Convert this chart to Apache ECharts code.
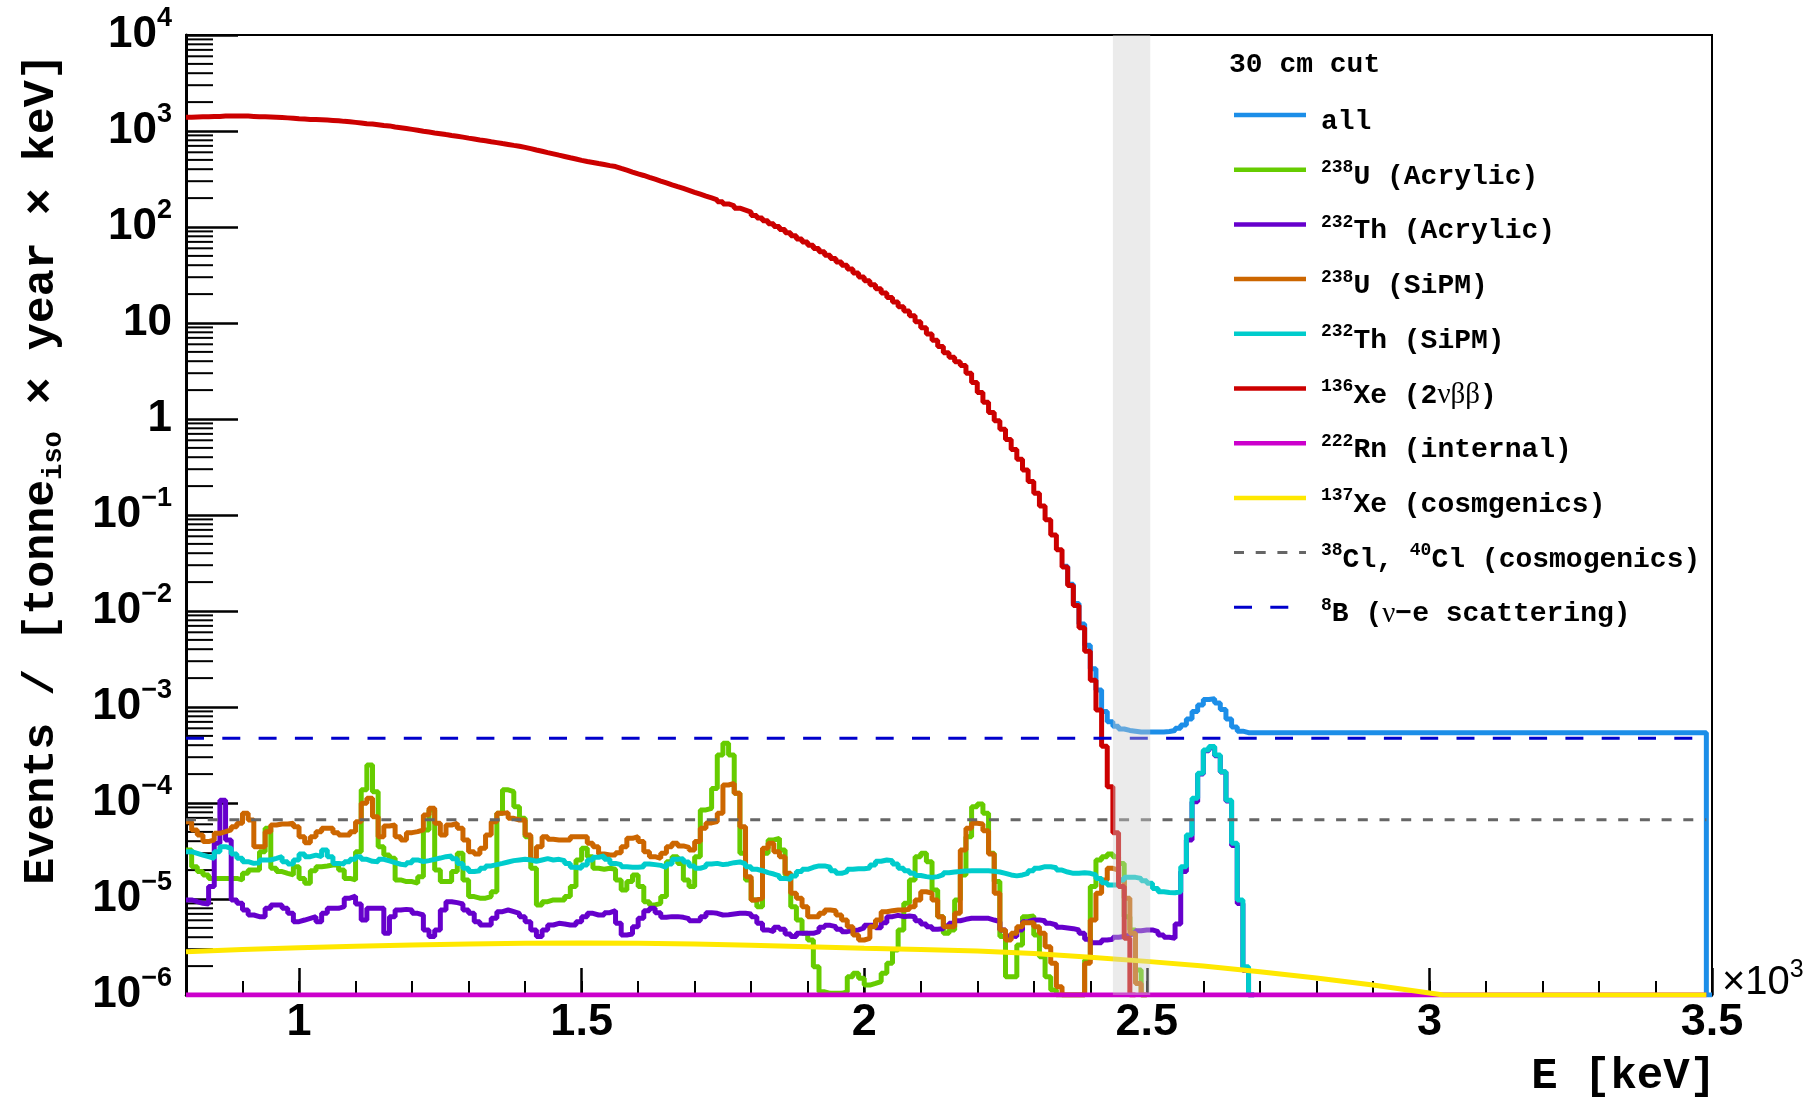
<!DOCTYPE html>
<html>
<head>
<meta charset="utf-8">
<script src="https://cdn.jsdelivr.net/npm/echarts@6/dist/echarts.min.js"></script>
<style>
  html, body { margin: 0; padding: 0; background: #fff; }
  #chart { width: 1820px; height: 1103px; }
</style>
</head>
<body>
<div id="chart"></div>
<script>
// Energy range and binning of the background histograms (keV)
const E_MIN = 800;
const E_MAX = 3500;
const BIN_KEV = 10;
const ALL_FROM_KEV = 2350;        // first bin of the "all" histogram that is drawn
const FLAT_RANGE_KEV = [800, 3490];
const ROI_KEV = [2440, 2506];

// x-axis labelled ticks (keV), shown in units of 10^3 keV
const xTickKeV = [1000, 1500, 2000, 2500, 3000, 3500];

// Events / (tonne_iso x year x keV), one value per 10 keV bin starting at E_MIN
const xe136 = [
  1390, 1400, 1410, 1410, 1420, 1420, 1430, 1430, 1430, 1430,
  1430, 1420, 1410, 1410, 1400, 1390, 1380, 1370, 1360, 1340,
  1330, 1320, 1320, 1310, 1300, 1290, 1280, 1260, 1250, 1230,
  1210, 1190, 1180, 1160, 1140, 1130, 1100, 1080, 1060, 1040,
  1020, 995, 975, 955, 938, 918, 899, 881, 863, 843,
  826, 807, 791, 773, 757, 740, 724, 708, 693, 675,
  655, 634, 615, 596, 578, 560, 543, 526, 511, 494,
  481, 470, 458, 447, 436, 426, 408, 391, 374, 358,
  344, 329, 315, 301, 288, 275, 263, 252, 241, 230,
  220, 210, 201, 192, 183, 174, 166, 157, 150, 143,
  132, 124, 116, 108, 101, 94.0, 87.3, 80.9, 75.2, 69.7,
  64.7, 59.8, 55.2, 50.9, 46.9, 43.3, 39.9, 36.5, 33.2, 30.2,
  27.5, 25.0, 22.7, 20.5, 18.4, 16.5, 14.8, 13.3, 11.9, 10.3,
  8.91, 7.67, 6.61, 5.69, 4.91, 4.39, 3.94, 3.60, 2.99, 2.40,
  1.89, 1.49, 1.17, 0.96, 0.78, 0.61, 0.48, 0.38, 0.294, 0.223,
  0.168, 0.124, 0.089, 0.062, 0.0434, 0.0287, 0.0184, 0.0114, 0.0067, 0.0038,
  0.0019, 9.3e-4, 3.9e-4, 1.48e-4, 4.9e-5, 1.35e-5, 3.9e-6, 1e-6
];

const u238Acrylic = [
  3.24e-5, 2.17e-5, 1.93e-5, 1.78e-5, 1.64e-5, 1.64e-5, 1.64e-5, 1.64e-5, 1.64e-5, 1.58e-5,
  1.85e-5, 2.00e-5, 2.00e-5, 3.11e-5, 5.45e-5, 2.09e-5, 1.93e-5, 1.85e-5, 1.78e-5, 2.17e-5,
  1.64e-5, 1.46e-5, 1.97e-5, 2.17e-5, 2.21e-5, 2.26e-5, 2.26e-5, 2.00e-5, 1.64e-5, 1.58e-5,
  3.11e-5, 1.37e-4, 2.49e-4, 1.31e-4, 3.51e-5, 2.87e-5, 2.65e-5, 1.58e-5, 1.52e-5, 1.52e-5,
  1.46e-5, 1.71e-5, 5.24e-5, 8.46e-5, 2.00e-5, 1.52e-5, 1.52e-5, 1.93e-5, 2.99e-5, 1.58e-5,
  1.06e-5, 1.02e-5, 1.02e-5, 1.06e-5, 1.19e-5, 7.80e-5, 1.37e-4, 1.31e-4, 9.16e-5, 6.92e-5,
  4.46e-5, 2.09e-5, 8.67e-6, 9.38e-6, 9.77e-6, 9.77e-6, 9.77e-6, 1.06e-5, 1.35e-5, 2.55e-5,
  3.37e-5, 2.76e-5, 2.09e-5, 2.04e-5, 2.09e-5, 2.04e-5, 1.58e-5, 1.24e-5, 1.52e-5, 1.78e-5,
  1.35e-5, 9.38e-6, 8.67e-6, 9.02e-6, 1.06e-5, 2.45e-5, 2.76e-5, 2.35e-5, 1.58e-5, 1.35e-5,
  2.76e-5, 8.46e-5, 8.81e-5, 1.42e-4, 3.16e-4, 4.19e-4, 3.16e-4, 1.26e-4, 2.99e-5, 1.58e-5,
  9.77e-6, 8.32e-6, 2.99e-5, 4.12e-5, 4.29e-5, 3.24e-5, 1.78e-5, 8.32e-6, 6.04e-6, 4.39e-6,
  3.74e-6, 1.97e-6, 1.08e-6, 1.04e-6, 1.04e-6, 1.04e-6, 1.08e-6, 1.55e-6, 1.68e-6, 1.49e-6,
  1.27e-6, 1.32e-6, 1.38e-6, 1.68e-6, 2.14e-6, 2.94e-6, 4.76e-6, 9.02e-6, 1.58e-5, 2.76e-5,
  2.99e-5, 2.45e-5, 1.24e-5, 6.55e-6, 4.39e-6, 4.76e-6, 9.77e-6, 1.78e-5, 4.46e-5, 9.16e-5,
  9.77e-5, 7.80e-5, 2.99e-5, 1.52e-5, 4.06e-6, 1.55e-6, 1.55e-6, 3.32e-6, 6.55e-6, 6.65e-6,
  4.22e-6, 2.51e-6, 1.55e-6, 1.13e-6, 1e-6, 1e-6, 1e-6, 1e-6, 1e-6, 2.32e-6,
  1.35e-5, 2.55e-5, 2.76e-5, 2.94e-5, 2.76e-5, 2.35e-5, 6.55e-6, 4.76e-6, 1.82e-6, 1e-6
];

const th232Acrylic = [
  9.77e-6, 9.38e-6, 9.02e-6, 8.87e-6, 1.35e-5, 3.80e-5, 1.07e-4, 4.12e-5, 9.77e-6, 9.02e-6,
  7.68e-6, 6.81e-6, 6.55e-6, 6.55e-6, 8.00e-6, 8.67e-6, 8.67e-6, 8.00e-6, 7.09e-6, 5.81e-6,
  6.04e-6, 6.29e-6, 6.55e-6, 5.81e-6, 7.09e-6, 8.00e-6, 8.00e-6, 8.32e-6, 1.02e-5, 1.07e-5,
  8.87e-6, 6.04e-6, 8.00e-6, 8.00e-6, 8.00e-6, 4.39e-6, 6.55e-6, 7.68e-6, 7.80e-6, 7.68e-6,
  7.09e-6, 6.81e-6, 4.76e-6, 4.06e-6, 4.76e-6, 7.68e-6, 9.38e-6, 9.16e-6, 8.87e-6, 7.68e-6,
  7.09e-6, 5.81e-6, 5.36e-6, 5.36e-6, 6.29e-6, 7.38e-6, 7.68e-6, 7.38e-6, 7.09e-6, 6.55e-6,
  5.81e-6, 4.76e-6, 4.06e-6, 4.76e-6, 5.36e-6, 5.58e-6, 5.50e-6, 5.36e-6, 5.36e-6, 5.81e-6,
  6.55e-6, 7.09e-6, 6.81e-6, 6.81e-6, 7.21e-6, 7.56e-6, 5.58e-6, 4.22e-6, 4.32e-6, 5.15e-6,
  6.29e-6, 7.56e-6, 8.00e-6, 7.21e-6, 6.44e-6, 6.55e-6, 6.55e-6, 6.44e-6, 6.24e-6, 5.94e-6,
  5.94e-6, 6.55e-6, 7.21e-6, 7.09e-6, 6.81e-6, 6.87e-6, 6.98e-6, 7.09e-6, 7.09e-6, 6.98e-6,
  6.55e-6, 5.58e-6, 4.76e-6, 4.57e-6, 5.07e-6, 4.83e-6, 4.32e-6, 4.06e-6, 4.39e-6, 4.39e-6,
  4.39e-6, 4.57e-6, 5.07e-6, 5.32e-6, 5.15e-6, 4.83e-6, 4.57e-6, 4.68e-6, 4.76e-6, 4.99e-6,
  5.32e-6, 5.32e-6, 5.03e-6, 5.67e-6, 6.55e-6, 6.76e-6, 6.55e-6, 6.65e-6, 6.55e-6, 5.94e-6,
  5.50e-6, 5.15e-6, 4.83e-6, 4.91e-6, 5.23e-6, 5.58e-6, 5.94e-6, 6.14e-6, 6.29e-6, 6.29e-6,
  6.29e-6, 6.29e-6, 6.04e-6, 5.81e-6, 4.76e-6, 4.12e-6, 4.06e-6, 4.76e-6, 5.81e-6, 6.04e-6,
  6.04e-6, 5.94e-6, 5.58e-6, 5.36e-6, 5.07e-6, 4.99e-6, 4.91e-6, 4.76e-6, 4.39e-6, 3.80e-6,
  3.51e-6, 3.51e-6, 3.74e-6, 3.80e-6, 3.99e-6, 4.06e-6, 4.22e-6, 4.39e-6, 4.68e-6, 4.76e-6,
  4.76e-6, 4.57e-6, 4.22e-6, 3.99e-6, 3.89e-6, 5.50e-6, 1.93e-5, 4.12e-5, 1.03e-4, 2.00e-4,
  3.50e-4, 3.80e-4, 3.10e-4, 2.10e-4, 1.05e-4, 3.60e-5, 9.00e-6, 1.80e-6, 1e-6
];

const u238SiPM = [
  6.39e-5, 5.24e-5, 4.64e-5, 3.96e-5, 4.12e-5, 4.83e-5, 5.03e-5, 5.24e-5, 5.67e-5, 6.14e-5,
  7.80e-5, 6.65e-5, 3.51e-5, 3.51e-5, 5.03e-5, 5.90e-5, 6.04e-5, 6.04e-5, 6.14e-5, 5.67e-5,
  4.46e-5, 3.86e-5, 4.46e-5, 5.03e-5, 5.45e-5, 5.45e-5, 4.91e-5, 4.64e-5, 4.64e-5, 5.03e-5,
  6.39e-5, 9.93e-5, 1.12e-4, 7.21e-5, 4.46e-5, 5.76e-5, 5.90e-5, 4.46e-5, 4.12e-5, 4.91e-5,
  5.03e-5, 5.24e-5, 7.50e-5, 8.81e-5, 6.14e-5, 4.64e-5, 5.90e-5, 6.14e-5, 5.45e-5, 4.12e-5,
  3.11e-5, 2.94e-5, 3.37e-5, 4.64e-5, 6.39e-5, 7.80e-5, 7.93e-5, 6.92e-5, 6.65e-5, 6.65e-5,
  4.64e-5, 2.55e-5, 3.51e-5, 4.46e-5, 4.19e-5, 4.12e-5, 4.12e-5, 4.12e-5, 4.46e-5, 4.46e-5,
  4.46e-5, 3.80e-5, 3.51e-5, 2.94e-5, 2.87e-5, 2.87e-5, 3.04e-5, 3.51e-5, 4.29e-5, 4.46e-5,
  3.96e-5, 3.11e-5, 2.76e-5, 2.65e-5, 2.99e-5, 3.51e-5, 3.80e-5, 3.57e-5, 3.45e-5, 3.24e-5,
  3.96e-5, 5.45e-5, 6.20e-5, 6.39e-5, 7.80e-5, 1.54e-4, 1.60e-4, 1.26e-4, 5.67e-5, 1.71e-5,
  9.77e-6, 1.02e-5, 3.37e-5, 3.80e-5, 3.11e-5, 2.76e-5, 1.85e-5, 1.15e-5, 1.02e-5, 8.32e-6,
  6.55e-6, 6.55e-6, 7.09e-6, 7.68e-6, 7.56e-6, 6.81e-6, 6.04e-6, 5.15e-6, 4.22e-6, 3.74e-6,
  3.89e-6, 5.15e-6, 6.04e-6, 7.38e-6, 7.56e-6, 7.68e-6, 7.68e-6, 7.80e-6, 8.32e-6, 9.77e-6,
  1.19e-5, 1.15e-5, 9.77e-6, 6.55e-6, 5.15e-6, 5.15e-6, 7.09e-6, 3.24e-5, 5.45e-5, 6.14e-5,
  6.04e-5, 5.15e-5, 2.94e-5, 1.15e-5, 4.76e-6, 3.74e-6, 4.39e-6, 5.15e-6, 5.67e-6, 5.67e-6,
  5.15e-6, 4.39e-6, 3.19e-6, 2.14e-6, 1.22e-6, 1e-6, 1e-6, 1e-6, 1e-6, 2.14e-6,
  6.04e-6, 1.15e-5, 1.58e-5, 2.09e-5, 2.00e-5, 1.58e-5, 1.02e-5, 4.39e-6, 1.32e-6, 1e-6
];

const th232SiPM = [
  3.11e-5, 2.99e-5, 2.87e-5, 2.76e-5, 2.65e-5, 3.11e-5, 3.51e-5, 3.37e-5, 2.94e-5, 2.65e-5,
  2.45e-5, 2.35e-5, 2.39e-5, 2.55e-5, 2.55e-5, 2.65e-5, 2.76e-5, 2.45e-5, 2.32e-5, 2.55e-5,
  2.94e-5, 2.76e-5, 2.87e-5, 2.76e-5, 3.24e-5, 2.76e-5, 2.35e-5, 2.32e-5, 2.45e-5, 2.59e-5,
  2.76e-5, 2.59e-5, 2.47e-5, 2.45e-5, 2.59e-5, 2.49e-5, 2.39e-5, 2.30e-5, 2.26e-5, 2.39e-5,
  2.55e-5, 2.45e-5, 2.51e-5, 2.59e-5, 2.67e-5, 2.76e-5, 2.81e-5, 2.63e-5, 2.35e-5, 2.09e-5,
  1.93e-5, 1.97e-5, 2.09e-5, 2.21e-5, 2.28e-5, 2.35e-5, 2.43e-5, 2.51e-5, 2.55e-5, 2.59e-5,
  2.55e-5, 2.47e-5, 2.55e-5, 2.63e-5, 2.55e-5, 2.59e-5, 2.51e-5, 2.35e-5, 2.14e-5, 2.09e-5,
  2.26e-5, 2.55e-5, 2.72e-5, 2.81e-5, 2.59e-5, 2.35e-5, 2.28e-5, 2.17e-5, 2.14e-5, 2.14e-5,
  2.17e-5, 2.32e-5, 2.28e-5, 2.24e-5, 2.14e-5, 2.32e-5, 2.59e-5, 2.63e-5, 2.43e-5, 2.21e-5,
  2.09e-5, 2.17e-5, 2.32e-5, 2.35e-5, 2.28e-5, 2.32e-5, 2.39e-5, 2.43e-5, 2.32e-5, 2.17e-5,
  2.04e-5, 1.97e-5, 1.88e-5, 1.82e-5, 1.74e-5, 1.64e-5, 1.60e-5, 1.74e-5, 1.93e-5, 2.04e-5,
  2.14e-5, 2.21e-5, 2.21e-5, 2.14e-5, 1.97e-5, 1.85e-5, 1.93e-5, 2.04e-5, 2.07e-5, 2.07e-5,
  2.10e-5, 2.26e-5, 2.47e-5, 2.55e-5, 2.51e-5, 2.32e-5, 2.09e-5, 1.97e-5, 1.85e-5, 1.76e-5,
  1.71e-5, 1.68e-5, 1.71e-5, 1.79e-5, 1.88e-5, 1.91e-5, 1.93e-5, 1.96e-5, 1.97e-5, 1.97e-5,
  1.97e-5, 1.97e-5, 1.94e-5, 1.91e-5, 1.85e-5, 1.78e-5, 1.74e-5, 1.78e-5, 1.85e-5, 1.97e-5,
  2.09e-5, 2.17e-5, 2.17e-5, 2.12e-5, 2.00e-5, 1.91e-5, 1.85e-5, 1.85e-5, 1.88e-5, 1.85e-5,
  1.78e-5, 1.64e-5, 1.48e-5, 1.40e-5, 1.40e-5, 1.58e-5, 1.68e-5, 1.68e-5, 1.64e-5, 1.55e-5,
  1.46e-5, 1.29e-5, 1.19e-5, 1.17e-5, 1.16e-5, 1.19e-5, 2.17e-5, 4.64e-5, 1.12e-4, 2.04e-4,
  3.57e-4, 3.87e-4, 3.16e-4, 2.12e-4, 1.07e-4, 3.80e-5, 9.77e-6, 1.97e-6, 1e-6
];

// Sum of all components, bins from ALL_FROM_KEV (below it the sum follows 136Xe)
const allSum = [
  0.0293, 0.0190, 0.0120, 0.0073, 0.0044, 0.0025, 0.00150, 9.0e-4, 7.0e-4, 6.3e-4,
  5.9e-4, 5.7e-4, 5.6e-4, 5.5e-4, 5.5e-4, 5.5e-4, 5.5e-4, 5.5e-4, 5.55e-4, 5.7e-4,
  6.0e-4, 6.5e-4, 7.5e-4, 9.0e-4, 1.05e-3, 1.20e-3, 1.22e-3, 1.10e-3, 9.4e-4, 7.5e-4,
  6.2e-4, 5.6e-4, 5.4e-4, 5.4e-4, 5.4e-4, 5.4e-4, 5.4e-4, 5.4e-4, 5.4e-4, 5.4e-4,
  5.4e-4, 5.4e-4, 5.4e-4, 5.4e-4, 5.4e-4, 5.4e-4, 5.4e-4, 5.4e-4, 5.4e-4, 5.4e-4,
  5.4e-4, 5.4e-4, 5.4e-4, 5.4e-4, 5.4e-4, 5.4e-4, 5.4e-4, 5.4e-4, 5.4e-4, 5.4e-4,
  5.4e-4, 5.4e-4, 5.4e-4, 5.4e-4, 5.4e-4, 5.4e-4, 5.4e-4, 5.4e-4, 5.4e-4, 5.4e-4,
  5.4e-4, 5.4e-4, 5.4e-4, 5.4e-4, 5.4e-4, 5.4e-4, 5.4e-4, 5.4e-4, 5.4e-4, 5.4e-4,
  5.4e-4, 5.4e-4, 5.4e-4, 5.4e-4, 5.4e-4, 5.4e-4, 5.4e-4, 5.4e-4, 5.4e-4, 5.4e-4,
  5.4e-4, 5.4e-4, 5.4e-4, 5.4e-4, 5.4e-4, 5.4e-4, 5.4e-4, 5.4e-4, 5.4e-4, 5.4e-4,
  5.4e-4, 5.4e-4, 5.4e-4, 5.4e-4, 5.4e-4, 5.4e-4, 5.4e-4, 5.4e-4, 5.4e-4, 5.4e-4,
  5.4e-4, 5.4e-4, 5.4e-4, 5.4e-4, 1e-6
];

// 137Xe (cosmogenic) spectrum, sampled every 100 keV
const xe137KeV = [800, 900, 1000, 1100, 1200, 1300, 1400, 1500, 1600, 1700, 1800, 1900, 2000,
                  2100, 2200, 2300, 2400, 2500, 2600, 2700, 2800, 2900, 3000, 3025, 3490];
const xe137 = [2.82e-6, 2.97e-6, 3.10e-6, 3.22e-6, 3.31e-6, 3.39e-6, 3.45e-6, 3.48e-6, 3.46e-6,
               3.40e-6, 3.30e-6, 3.18e-6, 3.07e-6, 2.97e-6, 2.87e-6, 2.70e-6, 2.47e-6, 2.24e-6,
               2.00e-6, 1.75e-6, 1.50e-6, 1.27e-6, 1.05e-6, 1.0e-6, 1.0e-6];

// Flat components
const rn222 = [1e-6, 1e-6];
const cl3840 = [6.7e-5, 6.7e-5];
const b8 = [4.72e-4, 4.72e-4];

const names = {
  all: 'all',
  u238Acrylic: '238U (Acrylic)',
  th232Acrylic: '232Th (Acrylic)',
  u238SiPM: '238U (SiPM)',
  th232SiPM: '232Th (SiPM)',
  xe136: '136Xe (2νββ)',
  rn222: '222Rn (internal)',
  xe137: '137Xe (cosmgenics)',
  cl: '38Cl, 40Cl (cosmogenics)',
  b8: '8B (ν-e scattering)'
};

const colors = {
  all: '#1c8ee8', u238Acrylic: '#66cc00', th232Acrylic: '#6600cc', u238SiPM: '#cc6600',
  th232SiPM: '#00cccc', xe136: '#cc0000', rn222: '#cc00cc', xe137: '#ffe800',
  cl: '#666666', b8: '#0000cc'
};

const dashes = { cl: [10, 11.7], b8: [18, 18.3] };

// Rich-text legend labels (superscript mass numbers, Greek letters in serif)
const legendText = [
  ['all', '{t|all}'],
  ['u238Acrylic', '{s|238}{t|U (Acrylic)}'],
  ['th232Acrylic', '{s|232}{t|Th (Acrylic)}'],
  ['u238SiPM', '{s|238}{t|U (SiPM)}'],
  ['th232SiPM', '{s|232}{t|Th (SiPM)}'],
  ['xe136', '{s|136}{t|Xe (2}{g|νββ}{t|)}'],
  ['rn222', '{s|222}{t|Rn (internal)}'],
  ['xe137', '{s|137}{t|Xe (cosmgenics)}'],
  ['cl', '{s|38}{t|Cl, }{s|40}{t|Cl (cosmogenics)}'],
  ['b8', '{s|8}{t|B (}{g|ν}{t|−e scattering)}']
];

const MONO = '"Liberation Mono", "Courier New", monospace';
const SANS = '"Liberation Sans", Arial, sans-serif';
const SERIF = '"Liberation Serif", "Times New Roman", serif';
const LINE_W = 5;

function histogram(values, startKeV) {
  const pts = values.map((v, i) => [startKeV + i * BIN_KEV, v]);
  pts.push([startKeV + values.length * BIN_KEV, values[values.length - 1]]);
  return pts;
}

function histSeries(key, values, startKeV) {
  return {
    name: names[key], type: 'line', step: 'end', symbol: 'none', silent: true,
    clip: true, animation: false,
    lineStyle: { color: colors[key], width: LINE_W },
    itemStyle: { color: colors[key] },
    data: histogram(values, startKeV)
  };
}

function flatSeries(key, values, width, dash) {
  return {
    name: names[key], type: 'line', symbol: 'none', silent: true, clip: true,
    lineStyle: { color: colors[key], width: width, type: dash || 'solid' },
    itemStyle: { color: colors[key] },
    data: FLAT_RANGE_KEV.map((e, i) => [e, values[i]])
  };
}

const chart = echarts.init(document.getElementById('chart'), null, { renderer: 'canvas' });

const option = {
  animation: false,
  backgroundColor: '#ffffff',
  grid: {
    left: 186, right: 108, top: 35, bottom: 108,
    show: true, borderColor: '#000', borderWidth: 2, backgroundColor: 'transparent'
  },
  xAxis: [
    {
      type: 'value', min: E_MIN, max: E_MAX, position: 'bottom',
      axisLine: { show: true, onZero: false, lineStyle: { color: '#000', width: 2.5 } },
      axisTick: { show: true, inside: true, length: 27, customValues: xTickKeV,
                  lineStyle: { color: '#000', width: 2.5 } },
      axisLabel: {
        customValues: xTickKeV, margin: 5, color: '#000',
        fontFamily: SANS, fontWeight: 'bold', fontSize: 45,
        formatter: (v) => String(v / 1000)
      },
      splitLine: { show: false }
    },
    {
      type: 'value', min: E_MIN, max: E_MAX, interval: 100, position: 'bottom', offset: 0,
      axisLine: { show: false },
      axisTick: { show: true, inside: true, length: 14, lineStyle: { color: '#000', width: 2 } },
      axisLabel: { show: false },
      splitLine: { show: false }
    }
  ],
  yAxis: {
    // one major tick per decade
    type: 'log', logBase: 10, min: 1e-6, max: 1e4, interval: 1,
    axisLine: { show: true, onZero: false, lineStyle: { color: '#000', width: 3 } },
    axisTick: { show: true, inside: true, length: 52, lineStyle: { color: '#000', width: 2.5 } },
    splitLine: { show: false },
    axisLabel: {
      margin: 14, color: '#000', interval: 0, hideOverlap: false,
      showMinLabel: true, showMaxLabel: true,
      formatter: (v) => {
        const p = Math.round(Math.log10(v));
        if (p === 0) return '{b|1}';
        if (p === 1) return '{b|10}';
        return '{b|10}{e|' + (p < 0 ? '\u2212' + (-p) : String(p)) + '}';
      },
      rich: {
        b: { fontFamily: SANS, fontWeight: 'bold', fontSize: 44, lineHeight: 60, color: '#000' },
        e: { fontFamily: SANS, fontWeight: 'bold', fontSize: 27, lineHeight: 27,
             verticalAlign: 'top', color: '#000' }
      }
    }
  },
  series: [
    histSeries('all', allSum, ALL_FROM_KEV),
    histSeries('u238Acrylic', u238Acrylic, E_MIN),
    histSeries('th232Acrylic', th232Acrylic, E_MIN),
    histSeries('u238SiPM', u238SiPM, E_MIN),
    histSeries('th232SiPM', th232SiPM, E_MIN),
    histSeries('xe136', xe136, E_MIN),
    flatSeries('rn222', rn222, LINE_W),
    {
      name: names.xe137, type: 'line', symbol: 'none', silent: true, clip: true,
      lineStyle: { color: colors.xe137, width: LINE_W }, itemStyle: { color: colors.xe137 },
      data: xe137KeV.map((e, i) => [e, xe137[i]])
    },
    flatSeries('cl', cl3840, 3, dashes.cl),
    flatSeries('b8', b8, 3, dashes.b8),
    {
      // signal region band, drawn translucent over the spectra
      name: 'ROI', type: 'custom', silent: true, z: 5,
      data: [ROI_KEV],
      encode: { x: [0, 1], y: 1 },
      renderItem: (params, api) => {
        const x0 = api.coord([api.value(0), 1])[0];
        const x1 = api.coord([api.value(1), 1])[0];
        const cs = params.coordSys;
        return {
          type: 'rect',
          shape: { x: x0, y: cs.y, width: x1 - x0, height: cs.height },
          style: { fill: 'rgba(204,204,204,0.4)' }
        };
      }
    }
  ]
};

chart.setOption(option);

// Annotation layer: axis titles, legend block and logarithmic minor ticks
const graphics = [];

graphics.push({
  id: 'ytitle', type: 'text', x: 42, y: 469, rotation: Math.PI / 2, z: 10,
  style: {
    text: '{t|Events / [tonne}{u|iso}{t| × year × keV]}',
    align: 'center', verticalAlign: 'middle',
    rich: {
      t: { fontFamily: MONO, fontWeight: 'bold', fontSize: 45, lineHeight: 52, fill: '#000' },
      u: { fontFamily: MONO, fontWeight: 'bold', fontSize: 27, lineHeight: 30,
           verticalAlign: 'bottom', fill: '#000' }
    }
  }
});

graphics.push({
  id: 'xtitle', type: 'text', x: 1716, y: 1077, z: 10,
  style: { text: 'E [keV]', font: 'bold 44px ' + MONO, align: 'right',
           verticalAlign: 'middle', fill: '#000' }
});

graphics.push({
  id: 'xscale', type: 'text', x: 1722, y: 983, z: 10,
  style: {
    text: '{a|×10}{b|3}', align: 'left', verticalAlign: 'middle',
    rich: {
      a: { fontFamily: SANS, fontSize: 40, lineHeight: 50, fill: '#000' },
      b: { fontFamily: SANS, fontSize: 25, lineHeight: 24, verticalAlign: 'top', fill: '#000' }
    }
  }
});

graphics.push({
  id: 'legendTitle', type: 'text', x: 1229, y: 65, z: 10,
  style: { text: '30 cm cut', font: 'bold 28px ' + MONO, align: 'left',
           verticalAlign: 'middle', fill: '#000' }
});

const legendRich = {
  t: { fontFamily: MONO, fontWeight: 'bold', fontSize: 28, lineHeight: 36, fill: '#000' },
  s: { fontFamily: MONO, fontWeight: 'bold', fontSize: 18, lineHeight: 12,
       verticalAlign: 'top', fill: '#000' },
  g: { fontFamily: SERIF, fontSize: 29, lineHeight: 36, fill: '#000' }
};

legendText.forEach(([key, label], r) => {
  const y = 115 + 54.7 * r;
  graphics.push({
    id: 'legLine' + r, type: 'line', z: 10,
    shape: { x1: 1234, y1: y, x2: 1306, y2: y },
    style: { stroke: colors[key], lineWidth: key === 'cl' || key === 'b8' ? 3 : 4.5,
             lineDash: dashes[key] || null }
  });
  graphics.push({
    id: 'legText' + r, type: 'text', x: 1321, y: y + 7, z: 10,
    style: { text: label, rich: legendRich, align: 'left', verticalAlign: 'middle' }
  });
});

// Minor ticks at 2..9 x 10^k on the logarithmic axis
const axisX = chart.convertToPixel({ xAxisIndex: 0 }, E_MIN);
let t = 0;
for (let k = -6; k < 4; k++) {
  for (let m = 2; m <= 9; m++) {
    const py = chart.convertToPixel({ yAxisIndex: 0 }, m * Math.pow(10, k));
    graphics.push({
      id: 'ymt' + (t++), type: 'line', z: 1, silent: true,
      shape: { x1: axisX, y1: py, x2: axisX + 27, y2: py },
      style: { stroke: '#000', lineWidth: 2 }
    });
  }
}

chart.setOption({ graphic: graphics });
</script>
</body>
</html>
